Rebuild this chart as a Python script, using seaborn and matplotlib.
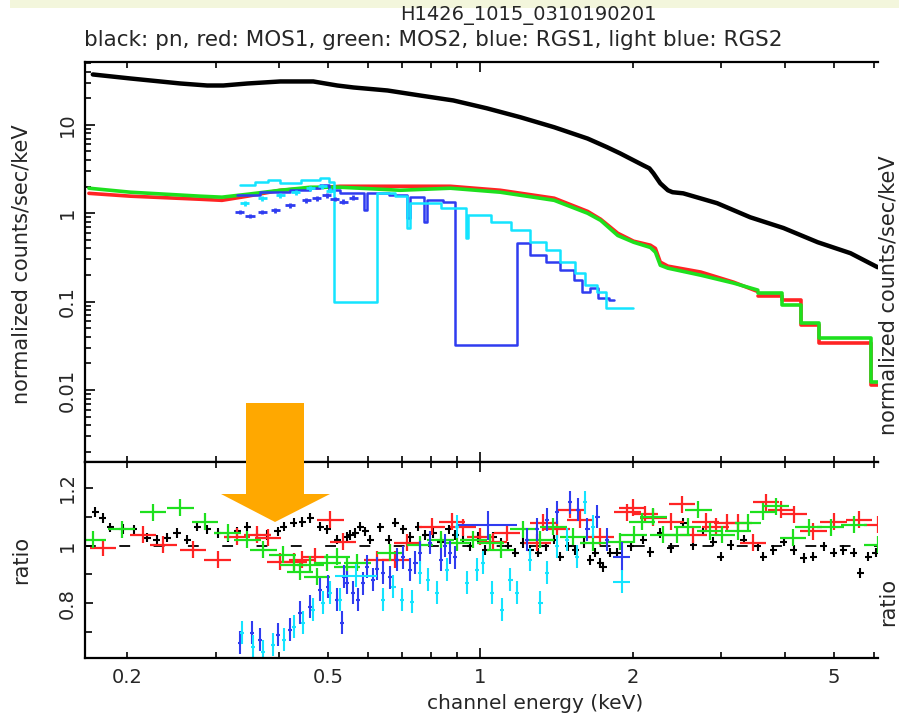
import numpy as np
import matplotlib
matplotlib.use("Agg")
import matplotlib.pyplot as plt
import seaborn as sns
from matplotlib.patches import Polygon, Rectangle
from matplotlib.ticker import FixedLocator, FuncFormatter, NullFormatter

# ---- spectra (top panel) ----
pn_e = [0.171, 0.203, 0.255, 0.288, 0.310, 0.346, 0.402, 0.467, 0.521, 0.561, 0.655, 0.760,
        0.884, 1.03, 1.20, 1.40, 1.63, 1.78, 1.89, 2.10, 2.16, 2.20, 2.27, 2.35, 2.40, 2.52,
        2.94, 3.42, 3.98, 4.65, 5.40, 6.11]
pn_f = [37.2, 33.5, 29.4, 27.9, 27.9, 29.4, 31.0, 31.0, 27.9, 26.5, 24.5, 21.5,
        18.9, 15.4, 12.2, 9.4, 7.0, 5.6, 4.76, 3.49, 3.22, 2.83, 2.18, 1.82, 1.73, 1.68,
        1.30, 0.90, 0.68, 0.47, 0.353, 0.245]

# MOS: finely binned part (smooth) and coarse bins at high energy (bin low edges)
mos_e = [0.168, 0.203, 0.279, 0.308, 0.346, 0.402, 0.461, 0.528, 0.694, 0.872, 1.095, 1.40,
         1.63, 1.73, 1.87, 2.01, 2.17, 2.22, 2.27, 2.35, 2.73, 3.17, 3.54]
mos1_f = [1.68, 1.56, 1.44, 1.40, 1.56, 1.82, 1.92, 2.02, 2.02, 2.02, 1.82, 1.48,
          1.05, 0.855, 0.594, 0.483, 0.435, 0.40, 0.28, 0.252, 0.216, 0.166, 0.130]
mos2_f = [1.92, 1.73, 1.56, 1.52, 1.64, 1.82, 1.97, 1.97, 1.82, 1.92, 1.73, 1.40,
          1.00, 0.83, 0.56, 0.47, 0.41, 0.362, 0.258, 0.239, 0.199, 0.162, 0.135]
mos_bin_e = [3.54, 3.96, 4.30, 4.67, 5.92, 6.14]
mos1_bin_f = [0.115, 0.104, 0.0542, 0.034, 0.0114, 0.0114]
mos2_bin_f = [0.125, 0.0913, 0.0571, 0.0387, 0.0123, 0.0123]

rgs1_e = [0.330, 0.367, 0.420, 0.461, 0.482, 0.502, 0.528, 0.588, 0.597, 0.660, 0.715, 0.725,
          0.775, 0.785, 0.845, 0.892, 1.18, 1.256, 1.346, 1.44, 1.53, 1.59, 1.65, 1.71, 1.80, 1.84]
rgs1_f = [1.60, 1.73, 1.82, 1.92, 2.07, 1.82, 1.68, 1.08, 1.68, 1.60, 0.88, 1.52,
          0.79, 1.40, 1.33, 0.032, 0.46, 0.335, 0.28, 0.227, 0.175, 0.128, 0.143, 0.11, 0.104, 0.104]
rgs2_e = [0.335, 0.358, 0.380, 0.402, 0.441, 0.482, 0.502, 0.514, 0.625, 0.679, 0.715, 0.725,
          0.834, 0.935, 0.945, 1.05, 1.15, 1.256, 1.346, 1.44, 1.54, 1.61, 1.70, 1.77, 2.00]
rgs2_f = [2.07, 2.24, 2.36, 2.18, 2.36, 2.49, 2.24, 0.099, 1.68, 1.56, 0.68, 1.30,
          1.14, 0.52, 0.95, 0.79, 0.64, 0.47, 0.38, 0.28, 0.21, 0.154, 0.128, 0.085, 0.085]

rgs1_dat_e = [0.334, 0.350, 0.370, 0.393, 0.420, 0.452, 0.474, 0.496, 0.515, 0.535, 0.560]
rgs1_dat_f = [1.03, 0.93, 1.03, 1.08, 1.23, 1.40, 1.48, 1.60, 1.45, 1.35, 1.50]
rgs2_dat_e = [0.342, 0.370, 0.402, 0.431, 0.461, 0.487, 0.505]
rgs2_dat_f = [1.30, 1.48, 1.60, 1.73, 1.92, 2.02, 1.80]

# ---- ratios (bottom panel) ----
pn_re = [0.173, 0.179, 0.185, 0.196, 0.206, 0.219, 0.229, 0.240, 0.251, 0.263, 0.275, 0.288,
         0.302, 0.316, 0.330, 0.346, 0.362, 0.379, 0.397, 0.408, 0.427, 0.444, 0.461, 0.482,
         0.498, 0.521, 0.545, 0.553, 0.565, 0.578, 0.592, 0.606, 0.634, 0.658, 0.679, 0.704,
         0.727, 0.754, 0.778, 0.807, 0.834, 0.865, 0.892, 0.925, 0.955, 0.991, 1.023, 1.061,
         1.096, 1.136, 1.173, 1.216, 1.256, 1.303, 1.346, 1.396, 1.440, 1.494, 1.542, 1.600,
         1.651, 1.689, 1.728, 1.752, 1.808, 1.867, 1.982, 2.10, 2.17, 2.27, 2.38, 2.52, 2.64,
         2.76, 2.89, 2.99, 3.13, 3.32, 3.54, 3.63, 3.80, 3.98, 4.17, 4.36, 4.56, 4.78, 5.00,
         5.23, 5.48, 5.65, 5.86, 6.06]
pn_r = [1.118, 1.097, 1.063, 1.059, 1.056, 1.028, 1.021, 1.028, 1.045, 1.021, 1.066, 1.056,
        1.045, 1.031, 1.049, 1.066, 1.038, 1.038, 1.049, 1.066, 1.080, 1.083, 1.097, 1.066,
        1.056, 1.021, 1.031, 1.038, 1.045, 1.066, 1.049, 1.021, 1.063, 1.021, 1.080, 1.056,
        1.031, 1.066, 1.038, 1.045, 1.014, 1.056, 1.038, 1.021, 0.997, 1.031, 0.986, 1.031,
        1.010, 0.997, 0.976, 1.010, 0.986, 0.976, 0.997, 1.021, 0.962, 0.997, 0.986, 1.010,
        0.951, 0.976, 0.941, 0.927, 0.976, 0.976, 0.997, 1.021, 0.979, 1.045, 0.993, 1.080, 1.003,
        1.049, 1.014, 0.962, 1.003, 1.021, 0.997, 0.962, 0.986, 1.014, 0.986, 0.958, 0.962, 0.997, 0.976,
        0.986, 0.976, 0.906, 0.962, 0.976]

mos1_re = [0.179, 0.215, 0.236, 0.270, 0.302, 0.330, 0.362, 0.380, 0.402, 0.427, 0.444, 0.471,
           0.505, 0.535, 0.625, 0.679, 0.717, 0.803, 0.880, 0.925, 1.000, 1.061, 1.130, 1.297,
           1.333, 1.420, 1.507, 1.578, 1.728, 1.954, 2.00, 2.12, 2.20, 2.38, 2.51, 2.64, 2.79,
           2.92, 3.08, 3.24, 3.46, 3.67, 3.93, 4.17, 4.56, 5.00, 5.61, 6.11]
mos1_r = [0.993, 1.038, 1.003, 0.986, 0.951, 1.031, 1.038, 1.028, 0.944, 0.944, 0.951, 0.962,
          1.090, 1.014, 0.951, 0.951, 1.010, 1.066, 1.083, 1.063, 1.031, 1.014, 1.045, 1.010,
          1.080, 1.056, 1.125, 1.090, 1.031, 1.115, 1.132, 1.108, 1.097, 1.083, 1.143, 1.038, 1.083,
          1.066, 1.080, 1.080, 1.010, 1.150, 1.125, 1.108, 1.049, 1.083, 1.090, 1.073]

mos2_re = [0.171, 0.195, 0.225, 0.255, 0.285, 0.316, 0.346, 0.372, 0.406, 0.427, 0.440, 0.461,
           0.475, 0.498, 0.521, 0.545, 0.571, 0.663, 0.760, 0.834, 0.900, 0.969, 1.047, 1.096,
           1.216, 1.315, 1.395, 1.528, 1.674, 1.893, 2.01, 2.09, 2.20, 2.30, 2.45, 2.57, 2.70,
           2.85, 3.01, 3.23, 3.39, 3.62, 3.84, 4.15, 4.46, 4.93, 5.48, 6.11]
mos2_r = [1.021, 1.056, 1.115, 1.132, 1.083, 1.045, 1.021, 0.986, 0.969, 0.934, 0.910, 0.934,
          0.892, 0.941, 0.962, 0.927, 0.941, 0.976, 1.003, 1.021, 1.010, 1.021, 1.010, 0.986,
          1.056, 1.021, 1.066, 1.031, 1.010, 1.014, 1.038, 1.083, 1.101, 1.038, 1.038, 1.066, 1.125,
          1.049, 1.038, 1.049, 1.080, 1.118, 1.136, 1.028, 1.063, 1.063, 1.073, 1.003]

rgs1_re = [0.334, 0.353, 0.367, 0.397, 0.420, 0.440, 0.461, 0.482, 0.500, 0.521, 0.532, 0.536,
           0.545, 0.560, 0.573, 0.587, 0.597, 0.614, 0.625, 0.643, 0.663, 0.685, 0.704, 0.727,
           0.744, 0.760, 0.796, 0.834, 0.852, 0.872, 0.892, 1.239, 1.297, 1.357, 1.420, 1.507,
           1.563, 1.629, 1.705, 1.784]
rgs1_r = [0.663, 0.697, 0.673, 0.690, 0.708, 0.767, 0.788, 0.847, 0.857, 0.812, 0.732, 0.892,
          0.871, 0.837, 0.812, 0.870, 0.927, 0.882, 0.920, 0.906, 0.890, 0.951, 0.960, 0.917,
          0.940, 0.976, 1.010, 0.951, 1.000, 0.976, 0.960, 1.021, 1.056, 1.090, 1.115, 1.150,
          1.125, 1.056, 1.101, 1.021]
rgs2_re = [0.337, 0.355, 0.372, 0.389, 0.408, 0.427, 0.446, 0.467, 0.488, 0.505, 0.528, 0.643,
           0.673, 0.701, 0.733, 0.760, 0.789, 0.822, 0.860, 0.900, 0.942, 0.986, 1.014, 1.056,
           1.105, 1.147, 1.184, 1.256, 1.315, 1.357, 1.420, 1.487, 1.556, 1.614, 1.674]
rgs2_r = [0.697, 0.649, 0.631, 0.656, 0.673, 0.718, 0.732, 0.777, 0.802, 0.837, 0.812, 0.812,
          0.857, 0.812, 0.805, 0.906, 0.882, 0.837, 0.917, 1.066, 0.871, 0.917, 0.941, 0.837,
          0.777, 0.882, 0.837, 0.951, 0.802, 0.906, 0.997, 1.021, 0.962, 1.150, 1.066]

# wide RGS bins (chip gaps and last bin): low edge, high edge, ratio
rgs1_wide_lo = [0.905, 1.83]
rgs1_wide_hi = [1.184, 1.98]
rgs1_wide_r = [1.070, 0.962]
rgs2_wide_lo = [0.516, 1.83]
rgs2_wide_hi = [0.625, 1.98]
rgs2_wide_r = [0.896, 0.875]

BLACK, RED, GREEN, BLUE, CYAN = "black", "#ff2424", "#1ee01e", "#2f3cf0", "#14e4ff"

sns.set_style("ticks")
plt.rcParams["font.family"] = ["DejaVu Sans"]

fig = plt.figure(figsize=(8.99, 7.19), dpi=100)
ax1 = fig.add_axes([0.0945, 0.3574, 0.8821, 0.5564])
ax2 = fig.add_axes([0.0945, 0.0848, 0.8821, 0.2726], sharex=ax1)


def xerr_dex(e, d):
    e = np.asarray(e)
    return [e * (1 - 10 ** -d), e * (10 ** d - 1)]


# top panel
sns.lineplot(x=pn_e, y=pn_f, ax=ax1, color=BLACK, lw=3.2, estimator=None, sort=False)
for f, fb, col in ((mos1_f, mos1_bin_f, RED), (mos2_f, mos2_bin_f, GREEN)):
    sns.lineplot(x=mos_e, y=f, ax=ax1, color=col, lw=2.6, estimator=None, sort=False)
    sns.lineplot(x=mos_bin_e, y=fb, ax=ax1, color=col, lw=2.6, estimator=None, sort=False,
                 drawstyle="steps-post")
sns.lineplot(x=rgs1_e, y=rgs1_f, ax=ax1, color=BLUE, lw=1.8, estimator=None, sort=False,
             drawstyle="steps-post")
sns.lineplot(x=rgs2_e, y=rgs2_f, ax=ax1, color=CYAN, lw=1.8, estimator=None, sort=False,
             drawstyle="steps-post")
ax1.errorbar(rgs1_dat_e, rgs1_dat_f, xerr=xerr_dex(rgs1_dat_e, 0.009),
             yerr=np.array(rgs1_dat_f) * 0.06, fmt="none", ecolor=BLUE, elinewidth=2.0)
ax1.errorbar(rgs2_dat_e, rgs2_dat_f, xerr=xerr_dex(rgs2_dat_e, 0.009),
             yerr=np.array(rgs2_dat_f) * 0.06, fmt="none", ecolor=CYAN, elinewidth=2.0)

# bottom panel
ax2.axhline(1.0, color=BLACK, lw=1.3, ls=(0, (6, 13)), zorder=1)
ax2.errorbar(pn_re, pn_r, xerr=xerr_dex(pn_re, 0.007), yerr=0.017, fmt="none",
             ecolor=BLACK, elinewidth=1.5)
ax2.errorbar(mos1_re, mos1_r, xerr=xerr_dex(mos1_re, 0.026), yerr=0.03, fmt="none",
             ecolor=RED, elinewidth=1.6)
ax2.errorbar(mos2_re, mos2_r, xerr=xerr_dex(mos2_re, 0.026), yerr=0.03, fmt="none",
             ecolor=GREEN, elinewidth=1.6)
ax2.errorbar(rgs1_re, rgs1_r, xerr=xerr_dex(rgs1_re, 0.004), yerr=0.04, fmt="none",
             ecolor=BLUE, elinewidth=1.5)
lo, hi = np.array(rgs1_wide_lo), np.array(rgs1_wide_hi)
mid = np.sqrt(lo * hi)
ax2.errorbar(mid, rgs1_wide_r, xerr=[mid - lo, hi - mid], yerr=0.05, fmt="none",
             ecolor=BLUE, elinewidth=1.5)
ax2.errorbar(rgs2_re, rgs2_r, xerr=xerr_dex(rgs2_re, 0.004), yerr=0.04, fmt="none",
             ecolor=CYAN, elinewidth=1.5)
lo, hi = np.array(rgs2_wide_lo), np.array(rgs2_wide_hi)
mid = np.sqrt(lo * hi)
ax2.errorbar(mid, rgs2_wide_r, xerr=[mid - lo, hi - mid], yerr=0.04, fmt="none",
             ecolor=CYAN, elinewidth=1.5)

# axes styling
for ax in (ax1, ax2):
    ax.set_xscale("log")
    ax.set_xlim(0.165, 6.12)
    for s in ("left", "top", "bottom"):
        ax.spines[s].set_linewidth(1.6)
        ax.spines[s].set_color("black")
    ax.spines["right"].set_visible(False)
    ax.xaxis.set_major_locator(FixedLocator([0.1, 1, 10]))
    ax.xaxis.set_minor_locator(FixedLocator([0.2, 0.3, 0.4, 0.5, 0.6, 0.7, 0.8, 0.9,
                                             2, 3, 4, 5, 6, 7, 8, 9]))
    ax.tick_params(axis="x", which="both", direction="in", top=True, bottom=True,
                   width=1.4, labelsize=14, pad=7)
    ax.tick_params(axis="x", which="major", length=7)
    ax.tick_params(axis="x", which="minor", length=4.5)
    ax.tick_params(axis="y", which="both", direction="in", left=True, right=False,
                   width=1.4, labelsize=14, labelrotation=90, pad=6)
    ax.set_xlabel("")
    ax.set_ylabel("")

ax1.tick_params(axis="x", which="both", labelbottom=False)
ax2.xaxis.set_major_formatter(FuncFormatter(lambda v, p: "%g" % v))
ax2.xaxis.set_minor_formatter(FuncFormatter(
    lambda v, p: "%g" % v if round(v, 3) in (0.2, 0.5, 2, 5) else ""))

ax1.set_yscale("log")
ax1.set_ylim(0.00153, 51.5)
ax1.yaxis.set_major_locator(FixedLocator([0.01, 0.1, 1, 10]))
ax1.yaxis.set_minor_locator(FixedLocator([m * 10.0 ** k for k in range(-3, 2)
                                          for m in range(2, 10)]))
ax1.yaxis.set_major_formatter(FuncFormatter(lambda v, p: "%g" % v))
ax1.yaxis.set_minor_formatter(NullFormatter())
ax1.tick_params(axis="y", which="major", length=7)
ax1.tick_params(axis="y", which="minor", length=4)

ax2.set_ylim(0.61, 1.29)
ax2.yaxis.set_major_locator(FixedLocator([0.8, 1.0, 1.2]))
ax2.yaxis.set_minor_locator(FixedLocator([0.7, 0.9, 1.1]))
ax2.yaxis.set_major_formatter(FuncFormatter(lambda v, p: "%g" % v))
ax2.tick_params(axis="y", which="major", length=6)
ax2.tick_params(axis="y", which="minor", length=5)
for lab in ax1.get_yticklabels() + ax2.get_yticklabels():
    lab.set_va("center")

# texts
fig.text(0.588, 0.978, "H1426_1015_0310190201", ha="center", va="center", fontsize=14)
fig.text(0.093, 0.945, "black: pn, red: MOS1, green: MOS2, blue: RGS1, light blue: RGS2",
         ha="left", va="center", fontsize=15.5)
fig.text(0.595, 0.021, "channel energy (keV)", ha="center", va="center", fontsize=14.5)
fig.text(0.024, 0.633, "normalized counts/sec/keV", rotation=90, ha="center", va="center",
         fontsize=15)
fig.text(0.024, 0.221, "ratio", rotation=90, ha="center", va="center", fontsize=15)
fig.text(0.988, 0.59, "normalized counts/sec/keV", rotation=90, ha="center", va="center",
         fontsize=15)
fig.text(0.988, 0.163, "ratio", rotation=90, ha="center", va="center", fontsize=15)

# pale band on top and the orange arrow
W, H = 899.0, 719.0
fig.add_artist(Rectangle((10 / W, 1 - 8 / H), 1, 8 / H, transform=fig.transFigure,
                         facecolor="#f3f6dc", edgecolor="none", zorder=0))
arrow_px = [(246, 403), (304, 403), (304, 494), (330, 494), (275, 522), (221, 494), (246, 494)]
fig.add_artist(Polygon([(x / W, 1 - y / H) for x, y in arrow_px], closed=True,
                       transform=fig.transFigure, facecolor="#ffa800", edgecolor="none",
                       zorder=20))

fig.savefig("out.png", dpi=100)
